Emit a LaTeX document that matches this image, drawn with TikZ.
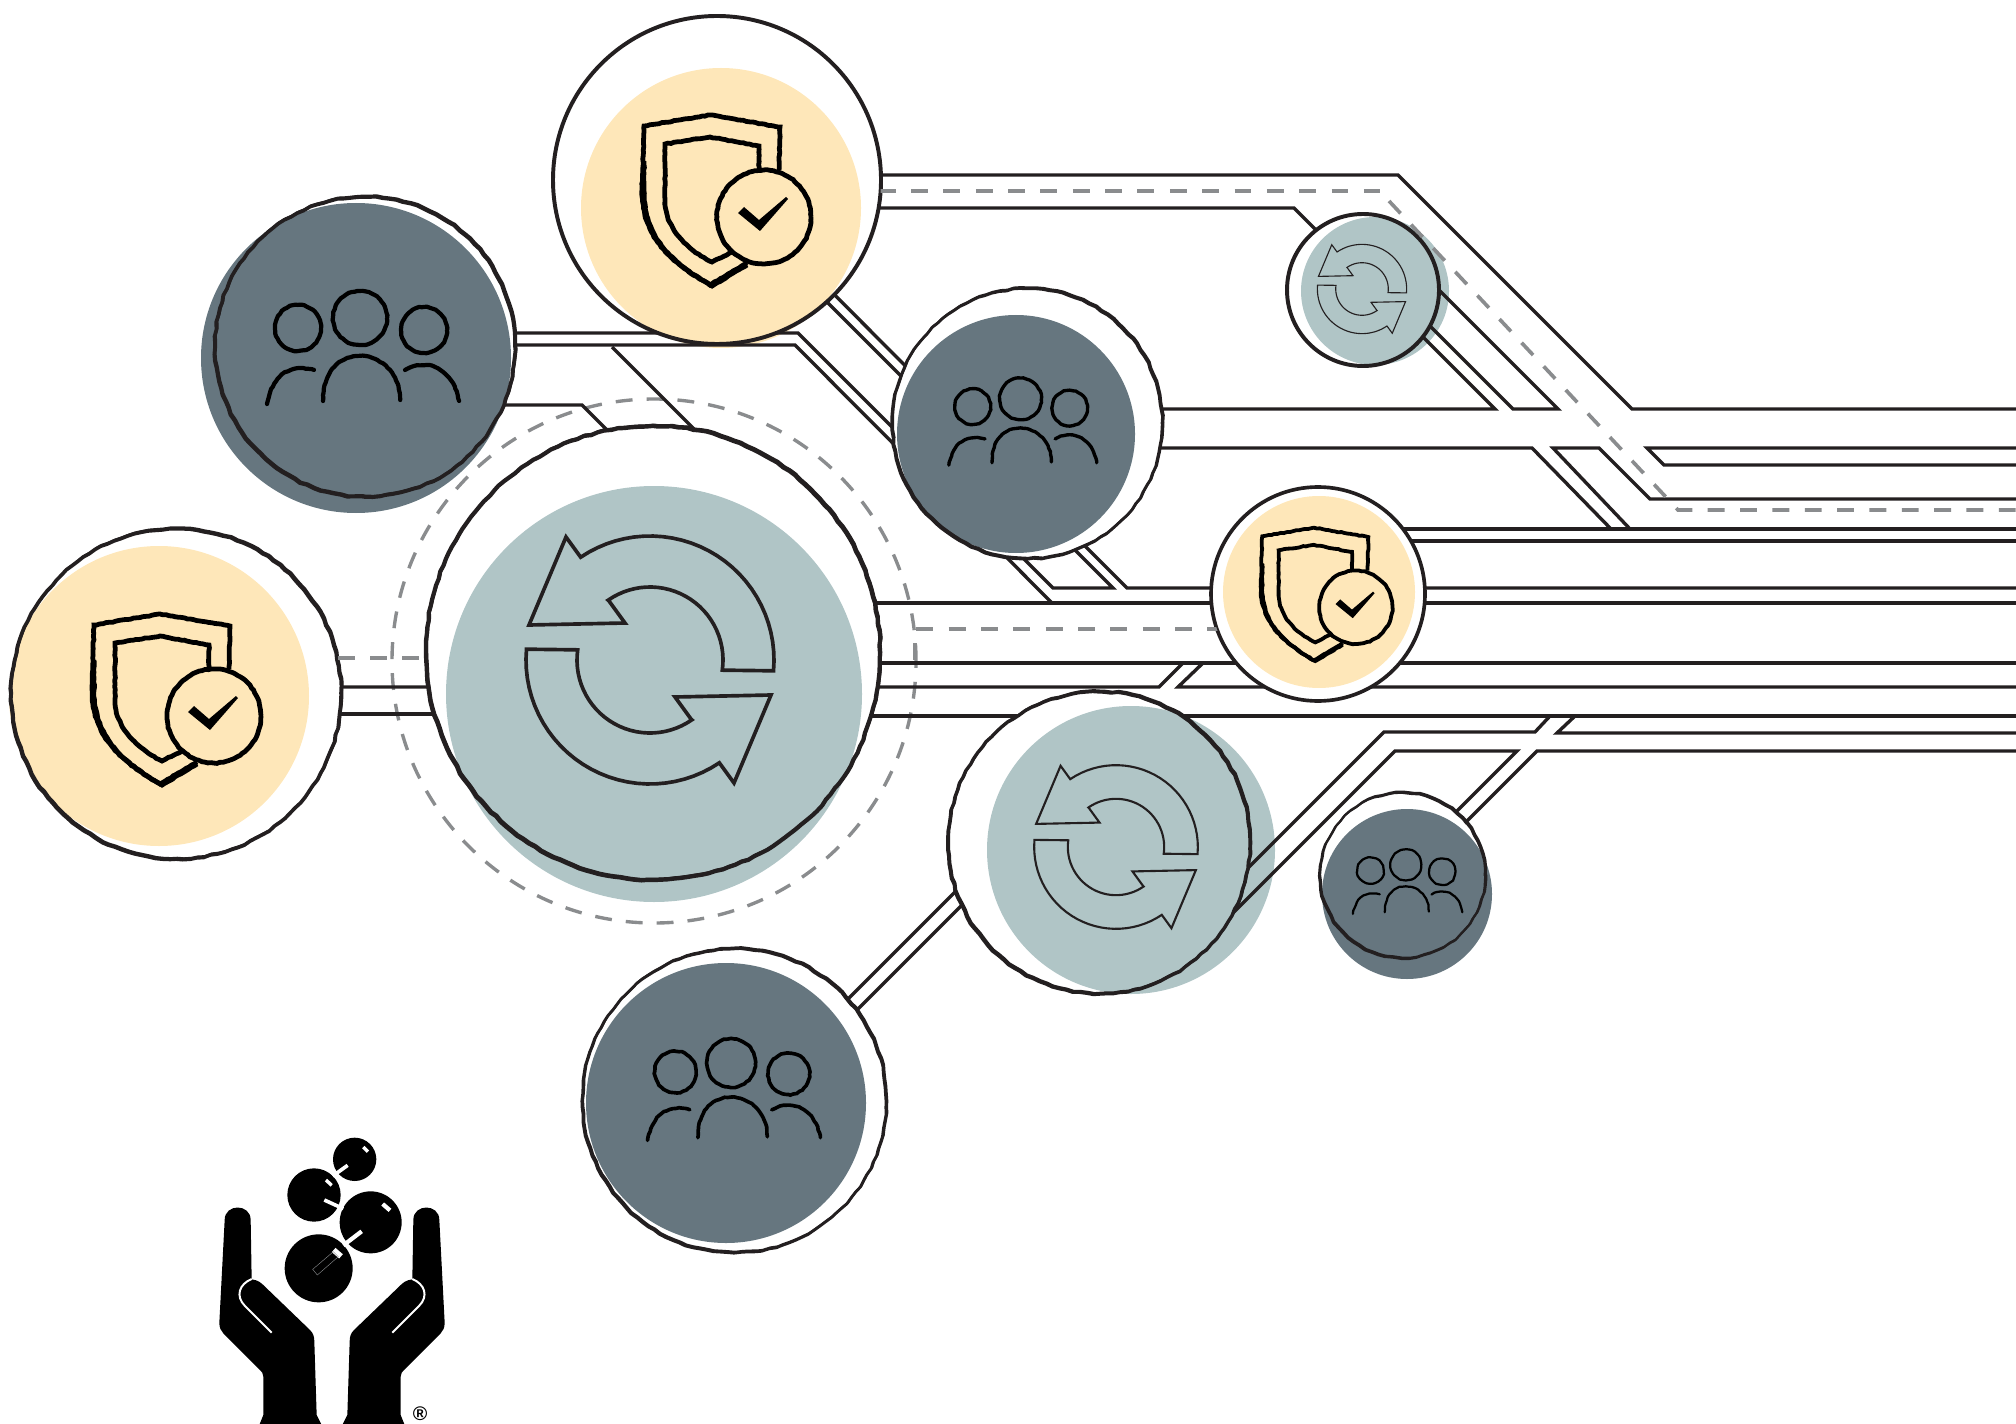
\documentclass[tikz,border=0pt]{standalone}
\usepackage{fontspec}
\setmainfont{Liberation Sans}
\usetikzlibrary{decorations.pathmorphing}
\definecolor{sandFill}{HTML}{FEE7B9}
\definecolor{mistFill}{HTML}{B0C5C6}
\definecolor{slateFill}{HTML}{66767F}
\definecolor{inkLine}{HTML}{231F20}
\definecolor{dashGrey}{HTML}{8A8C8E}

\begin{document}
\begin{tikzpicture}[
    x=0.025cm, y=-0.025cm,
    spot/.style={circle, inner sep=0pt, minimum size=#1*0.025cm},
    ring/.style={circle, draw=inkLine, inner sep=0pt, minimum size=#1*0.025cm},
    rough/.style={decorate, decoration={random steps, segment length=5pt, amplitude=0.5pt},
                  preaction={draw, decorate, line width=1.6pt, transform canvas={shift={(0.8pt,0.9pt)}}}},
    trace/.style={draw=inkLine, line width=2.4pt},
    dashline/.style={draw=dashGrey, line width=2.6pt, dash pattern=on 12pt off 11pt},
    scratchy/.style={decorate, decoration={random steps, segment length=2.2pt, amplitude=0.3pt}},
    cyclepic/.pic={
      \foreach \turn in {0,180} {
        \draw[inkLine, rotate=\turn, line join=miter]
          plot[domain=5:-124, samples=30] ({124*cos(\x)},{124*sin(\x)})
          -- (-84,-123) -- (-121,-35) -- (-25,-37) -- (-41,-59)
          -- plot[domain=-125:8, samples=30] ({73*cos(\x)},{73*sin(\x)}) -- cycle;
      }
    },
    shieldpic/.pic={
      \draw[black, scratchy] (20,63) -- (-17,85) .. controls (-60,60) and (-85,35) .. (-85,-10)
        -- (-83,-74) -- (-17,-85) -- (53,-73) -- (52,-30);
      \draw[black, scratchy, shift={(2,1)}] (-85,-40) -- (-85,-10) .. controls (-85,35) and (-60,60) .. (-17,85)
        -- (18,64);
      \draw[black, scratchy] (5,52) -- (-15,62) .. controls (-45,47) and (-62,25) .. (-62,0)
        -- (-62,-56) -- (-17,-63) -- (32,-54) -- (32,-30);
      \draw[black, scratchy] (37,17) circle[radius=47];
      \fill[black] (11,13) -- (17,7) -- (32,20) -- (59,-3) -- (61,-1) -- (33,31) -- cycle;
    },
    peoplepic/.pic={
      \draw[black, scratchy] (-2,-30) circle[radius=27];
      \draw[black, scratchy] (-64,-20) circle[radius=23];
      \draw[black, scratchy] (62,-18) circle[radius=23];
      \draw[black, scratchy, line cap=round] (-39,53) .. controls (-39,22) and (-22,8) .. (-2,8)
        .. controls (18,8) and (38,24) .. (38,52);
      \draw[black, scratchy, line cap=round] (-95,56) .. controls (-90,30) and (-75,15) .. (-48,22);
      \draw[black, scratchy, line cap=round] (43,22) .. controls (70,8) and (92,25) .. (97,53);
    },
    handpic/.pic={
      \fill[black] (134,360) .. controls (134,310) and (212,310) .. (212,360) -- (215,538)
        .. controls (235,540) and (245,550) .. (255,560) -- (390,690)
        .. controls (400,700) and (403,710) .. (403,725) -- (410,945) -- (425,975) -- (238,975)
        -- (250,945) -- (250,830) .. controls (250,820) and (245,815) .. (240,810) -- (130,700)
        .. controls (122,692) and (118,682) .. (118,668) -- cycle;
      \draw[white, line width=1.4pt] (275,698) -- (195,618) .. controls (165,588) and (178,552) .. (215,537);
    },
  ]
    \pgfmathsetseed{11}
    \useasboundingbox (0,0) rectangle (2016,1424);

    % colour spots
    \node[spot=280, fill=sandFill] (sandtop) at (721,208) {};
    \node[spot=310, fill=slateFill] (slatetop) at (356,358) {};
    \node[spot=300, fill=sandFill] (sandleft) at (159,696) {};
    \node[spot=416, fill=mistFill] (mistbig) at (654,694) {};
    \node[spot=238, fill=slateFill] (slatemid) at (1016,434) {};
    \node[spot=148, fill=mistFill] (mistsmall) at (1375,291) {};
    \node[spot=192, fill=sandFill] (sandright) at (1319,592) {};
    \node[spot=288, fill=mistFill] (mistmid) at (1131,850) {};
    \node[spot=170, fill=slateFill] (slatesmall) at (1407,894) {};
    \node[spot=280, fill=slateFill] (slatelow) at (726,1103) {};

    % rings
    \node[ring=328, line width=2.8pt] (shieldtop) at (717,180) {};
    \node[ring=300, line width=2.6pt, rough] (peopletop) at (365,347) {};
    \node[ring=330, line width=2.6pt, rough] (shieldleft) at (176,694) {};
    \node[ring=454, line width=3pt, rough] (cyclebig) at (653,653) {};
    \node[ring=270, line width=2pt, rough] (peoplemid) at (1027,424) {};
    \node[ring=152, line width=2.8pt] (cyclesmall) at (1363,290) {};
    \node[ring=214, line width=2.6pt] (shieldright) at (1318,594) {};
    \node[ring=302, line width=2.4pt, rough] (cyclemid) at (1099,843) {};
    \node[ring=165, line width=1.4pt, rough] (peoplesmall) at (1402,876) {};
    \node[ring=304, line width=2pt, rough] (peoplelow) at (734,1101) {};
    \node[ring=524, draw=dashGrey, line width=2.4pt, dash pattern=on 12pt off 10pt] (haloring) at (654,661) {};

    % traces, cut away inside the rings
    \begin{scope}[even odd rule]
      \clip (0,0) rectangle (2016,1424)
        (shieldtop.center) circle[radius=164] (peopletop.center) circle[radius=150]
        (shieldleft.center) circle[radius=165] (cyclebig.center) circle[radius=227]
        (peoplemid.center) circle[radius=135] (cyclesmall.center) circle[radius=76]
        (shieldright.center) circle[radius=107] (cyclemid.center) circle[radius=151]
        (peoplesmall.center) circle[radius=82] (peoplelow.center) circle[radius=152];
      \draw[trace] (shieldtop.center |- 0,175) -- (1398,175) -- (1632,409) -- (2016,409);
      \draw[trace] (shieldtop.center |- 0,208) -- (1294,208) -- (1495,409) -- (peoplemid.center |- 0,409);
      \draw[trace] (1350,246) -- (1513,409) -- (1558,409) -- (1380,231);
      \draw[trace] (peoplemid.center |- 0,448) -- (1532,448) -- (1611,529);
      \draw[trace] (shieldright.center |- 0,529) -- (2016,529);
      \draw[trace] (1630,529) -- (1553,448) -- (1599,448) -- (1650,499) -- (2016,499);
      \draw[trace] (2016,448) -- (1647,448) -- (1664,465) -- (2016,465);
      \draw[trace] (shieldright.center |- 0,541) -- (2016,541);
      \draw[trace] (700,160) -- (1127,588) -- (2016,588);
      \draw[trace] (peopletop.center |- 0,333) -- (798,333) -- (1053,588) -- (1113,588) -- (700,175);
      \draw[trace] (peopletop.center |- 0,345) -- (795,345) -- (1052,603);
      \draw[trace] (cyclebig.center |- 0,603) -- (2016,603);
      \draw[trace] (612,347) -- (720,455);
      \draw[trace] (peopletop.center |- 0,405) -- (582,405) -- (620,443);
      \draw[trace] (cyclebig.center |- 0,663) -- (2016,663);
      \draw[trace] (shieldleft.center |- 0,687) -- (1159,687) -- (1183,663);
      \draw[trace] (1203,663) -- (1178,687) -- (2016,687);
      \draw[trace] (shieldleft.center |- 0,714) -- (cyclebig.center |- 0,714);
      \draw[trace] (cyclebig.center |- 0,716) -- (2016,716);
      \draw[trace] (1220,896) -- (1384,732) -- (1535,732) -- (1550,716);
      \draw[trace] (1575,716) -- (1557,733) -- (2016,733);
      \draw[trace] (1210,936) -- (1395,751) -- (1517,751) -- (1440,828);
      \draw[trace] (1420,868) -- (1537,751) -- (2016,751);
      \draw[trace] (800,1047) -- (1000,847);
      \draw[trace] (810,1057) -- (1010,857);
      \draw[dashline] (shieldtop.center |- 0,191) -- (1380,191);
      \draw[dashline] (1389,201) -- (1678,510) -- (2016,510);
      \draw[dashline] (shieldleft.center |- 0,658) -- (cyclebig.center |- 0,658);
      \draw[dashline] (915,660) -- (915,629) -- (shieldright.center |- 0,629);
    \end{scope}

    % icons
    \pic[line width=3.4pt] (iconshieldtop) at (727,200) {shieldpic};
    \pic[line width=3.4pt] (iconshieldleft) at (177,699) {shieldpic};
    \pic[scale=0.78, line width=2.7pt] (iconshieldright) at (1327,594) {shieldpic};
    \pic[line width=3pt] (iconpeopletop) at (362,348) {peoplepic};
    \pic[scale=0.77, line width=2.4pt] (iconpeoplemid) at (1022,422) {peoplepic};
    \pic[scale=0.9, line width=2.6pt] (iconpeoplelow) at (733,1090) {peoplepic};
    \pic[scale=0.57, line width=1.6pt] (iconpeoplesmall) at (1407,882) {peoplepic};
    \pic[line width=2.6pt] (iconcyclebig) at (650,660) {cyclepic};
    \pic[scale=0.66, line width=1.5pt] (iconcyclemid) at (1116,847) {cyclepic};
    \pic[scale=0.36, line width=0.8pt] (iconcyclesmall) at (1362,289) {cyclepic};

    % hands and molecule
    \pic[scale=1/3] (handleft) at (180,1100) {handpic};
    \pic[scale=1/3, xscale=-1] (handright) at (484,1100) {handpic};
    \begin{scope}[shift={(180,1100)}, scale=1/3]
      \fill[black] (524,178) circle[radius=65];
      \fill[black] (402,285) circle[radius=80];
      \fill[black] (572,367) circle[radius=93];
      \fill[black] (416,505) circle[radius=102];
      \draw[white, line width=2.6pt] (458,228) -- (503,196);
      \draw[white, line width=2.6pt] (433,300) -- (490,326);
      \draw[white, line width=3pt] (490,436) -- (545,394);
      \draw[white, line width=2.4pt] (550,141) -- (564,155);
      \draw[white, line width=2.4pt] (438,240) -- (455,256);
      \draw[white, line width=3pt] (608,312) -- (630,331);
      \draw[white, line width=4pt] (461,450) -- (483,469);
      \draw[dashGrey, line width=0.3pt] (398,508) -- (412,525) -- (475,470) -- (460,455) -- cycle;
    \end{scope}
    \node[font=\bfseries\fontsize{14}{14}\selectfont, inner sep=0pt] (regmark) at (420,1414) {®};
  \end{tikzpicture}
\end{document}
